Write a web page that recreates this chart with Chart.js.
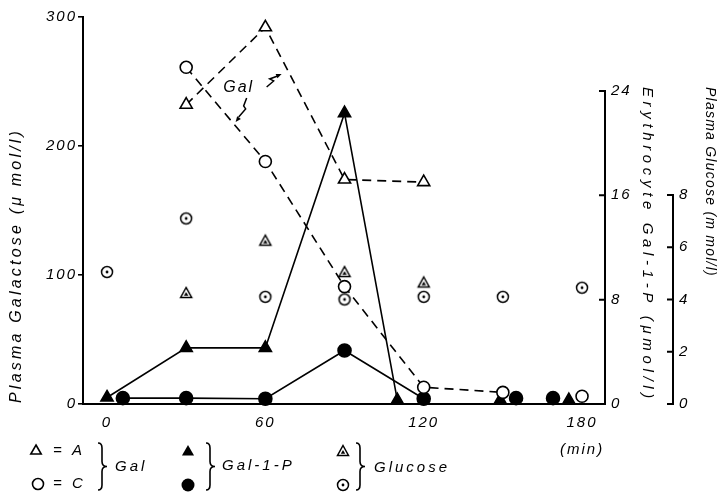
<!DOCTYPE html>
<html>
<head>
<meta charset="utf-8">
<script src="https://cdn.jsdelivr.net/npm/chart.js@4.4.1/dist/chart.umd.min.js"></script>
<style>
  html, body { margin: 0; padding: 0; background: #fff; }
  canvas { display: block; }
</style>
</head>
<body>
<canvas id="stage" width="722" height="493" style="width:722px;height:493px"></canvas>
<script>
// time in min, Gal in umol/l (left), Gal-1-P in umol/l (right), glucose in mmol/l (far right)
var galATimes = [30, 60, 90, 120];
var galAValues = [232, 292, 174, 172];
var galCTimes = [30, 60, 90, 120, 150];
var galCValues = [261, 188, 91, 13, 9];
var galCLateTimes = [180];
var galCLateValues = [6];

var g1pATimes = [0, 30, 60, 90, 110];
var g1pAValues = [0.5, 4.3, 4.3, 22.3, 0.3];
var g1pALateTimes = [149, 175];
var g1pALateValues = [0.3, 0.3];
var g1pCTimes = [6, 30, 60, 90, 120];
var g1pCValues = [0.45, 0.45, 0.4, 4.1, 0.4];
var g1pCLateTimes = [155, 169];
var g1pCLateValues = [0.45, 0.45];

var glucATimes = [30, 60, 90, 120];
var glucAValues = [4.25, 6.25, 5.05, 4.65];
var glucCTimes = [0, 30, 60, 90, 120, 150, 180];
var glucCValues = [5.05, 7.1, 4.1, 4.0, 4.1, 4.1, 4.45];

var timeTicks = [0, 60, 120, 180];
var galTicks = [0, 100, 200, 300];
var g1pTicks = [0, 8, 16, 24];
var glucTicks = [0, 2, 4, 6, 8];

var FONT = '"Liberation Sans", Arial, sans-serif';

function pts(ts, vs) {
  return ts.map(function(t, i) { return {x: t, y: vs[i]}; });
}

// triangle / circle with a dot inside, used for glucose
function dottedTriangle() {
  var c = document.createElement('canvas');
  c.width = 16; c.height = 16;
  var g = c.getContext('2d');
  g.lineWidth = 1.5;
  g.strokeStyle = '#000';
  g.fillStyle = '#fff';
  g.beginPath();
  g.moveTo(8, 2.5); g.lineTo(13.5, 12.5); g.lineTo(2.5, 12.5); g.closePath();
  g.fill(); g.stroke();
  g.fillStyle = '#000';
  g.beginPath();
  g.moveTo(8, 7); g.lineTo(10.2, 10.8); g.lineTo(5.8, 10.8); g.closePath();
  g.fill();
  return c;
}
function dottedCircle() {
  var c = document.createElement('canvas');
  c.width = 16; c.height = 16;
  var g = c.getContext('2d');
  g.lineWidth = 1.5;
  g.strokeStyle = '#000';
  g.fillStyle = '#fff';
  g.beginPath(); g.arc(8, 8, 5.5, 0, Math.PI * 2); g.fill(); g.stroke();
  g.fillStyle = '#000';
  g.beginPath(); g.arc(8, 8, 1.4, 0, Math.PI * 2); g.fill();
  return c;
}
var triDot = dottedTriangle();
var circDot = dottedCircle();

function ds(extra) {
  return Object.assign({
    borderColor: '#000', borderWidth: 1.6, pointBorderColor: '#000', pointBorderWidth: 1.6,
    tension: 0, fill: false, clip: false
  }, extra);
}

function onlyTicks(list) {
  return function(scale) {
    scale.ticks = list.map(function(v) { return {value: v}; });
  };
}

function spaced(ctx, text, len) {
  ctx.letterSpacing = '0px';
  var w = ctx.measureText(text).width;
  ctx.letterSpacing = Math.max(0, (len - w) / text.length).toFixed(2) + 'px';
}

function brace(ctx, x, y0, y1) {
  var m = (y0 + y1) / 2;
  ctx.beginPath();
  ctx.moveTo(x, y0);
  ctx.quadraticCurveTo(x + 4, y0, x + 4, y0 + 5);
  ctx.lineTo(x + 4, m - 5);
  ctx.quadraticCurveTo(x + 4, m, x + 9, m);
  ctx.quadraticCurveTo(x + 4, m, x + 4, m + 5);
  ctx.lineTo(x + 4, y1 - 5);
  ctx.quadraticCurveTo(x + 4, y1, x, y1);
  ctx.stroke();
}

function tri(ctx, x, y, r, filled) {
  ctx.beginPath();
  ctx.moveTo(x, y - r);
  ctx.lineTo(x + r * 0.866, y + r * 0.5);
  ctx.lineTo(x - r * 0.866, y + r * 0.5);
  ctx.closePath();
  if (filled) ctx.fill(); else ctx.stroke();
}
function circ(ctx, x, y, r, filled) {
  ctx.beginPath();
  ctx.arc(x, y, r, 0, Math.PI * 2);
  if (filled) ctx.fill(); else ctx.stroke();
}

function arrowHead(ctx, fx, fy, tx, ty) {
  var a = Math.atan2(ty - fy, tx - fx);
  ctx.beginPath();
  ctx.moveTo(tx, ty);
  ctx.lineTo(tx - 6 * Math.cos(a - 0.4), ty - 6 * Math.sin(a - 0.4));
  ctx.lineTo(tx - 6 * Math.cos(a + 0.4), ty - 6 * Math.sin(a + 0.4));
  ctx.closePath();
  ctx.fill();
}

var extras = {
  id: 'extras',
  beforeDraw: function(chart) {
    chart.ctx.letterSpacing = '2px';
  },
  afterDraw: function(chart) {
    var ctx = chart.ctx;
    var sx = chart.scales.x, sy = chart.scales.y, s1 = chart.scales.y1, s2 = chart.scales.y2;
    ctx.save();
    ctx.strokeStyle = '#000';
    ctx.fillStyle = '#000';
    ctx.lineWidth = 2;

    // the two right axes only run over their ticked range
    [[s1, g1pTicks], [s2, glucTicks]].forEach(function(p) {
      var s = p[0], t = p[1], x = s.left;
      ctx.beginPath();
      ctx.moveTo(x, s.getPixelForValue(t[0]));
      ctx.lineTo(x, s.getPixelForValue(t[t.length - 1]));
      t.forEach(function(v) {
        var yy = s.getPixelForValue(v);
        ctx.moveTo(x - 6, yy);
        ctx.lineTo(x + 1, yy);
      });
      ctx.stroke();
    });

    // axis titles
    ctx.textBaseline = 'middle';
    ctx.textAlign = 'left';
    ctx.font = 'italic 16px ' + FONT;
    var y0 = sy.getPixelForValue(0);
    var t = 'Plasma Galactose (\u03bc mol/l)';
    ctx.save();
    ctx.translate(sy.left + 17, y0 - 1);
    ctx.rotate(-Math.PI / 2);
    spaced(ctx, t, 275);
    ctx.fillText(t, 0, 0);
    ctx.restore();

    var top1 = s1.getPixelForValue(24) - 4;
    ctx.font = 'italic 15px ' + FONT;
    t = 'Erythrocyte Gal-1-P (\u03bcmol/l)';
    ctx.save();
    ctx.translate(s1.left + 42, top1);
    ctx.rotate(Math.PI / 2);
    spaced(ctx, t, 316);
    ctx.fillText(t, 0, 0);
    ctx.restore();

    ctx.font = 'italic 14px ' + FONT;
    t = 'Plasma Glucose (m mol/l)';
    ctx.save();
    ctx.translate(s2.left + 37, top1);
    ctx.rotate(Math.PI / 2);
    spaced(ctx, t, 190);
    ctx.fillText(t, 0, 0);
    ctx.restore();

    // "Gal" note with its two arrows
    var gx = sx.getPixelForValue(49.5), gy = sy.getPixelForValue(245);
    ctx.font = 'italic 16px ' + FONT;
    ctx.textAlign = 'center';
    ctx.letterSpacing = '2px';
    ctx.fillText('Gal', gx + 1, gy);
    ctx.lineWidth = 1.5;
    ctx.beginPath();
    ctx.moveTo(gx + 29, gy - 1);
    ctx.lineTo(gx + 36, gy - 7);
    ctx.lineTo(gx + 32, gy - 9);
    ctx.lineTo(gx + 40, gy - 12);
    ctx.stroke();
    arrowHead(ctx, gx + 32, gy - 9, gx + 44, gy - 14);
    ctx.beginPath();
    ctx.moveTo(gx + 9, gy + 10);
    ctx.lineTo(gx + 6, gy + 18);
    ctx.lineTo(gx + 8, gy + 21);
    ctx.lineTo(gx + 1, gy + 29);
    ctx.stroke();
    arrowHead(ctx, gx + 8, gy + 21, gx - 2, gy + 34);

    // legend
    ctx.lineWidth = 1.6;
    ctx.textAlign = 'left';
    ctx.font = 'italic 15px ' + FONT;
    ctx.letterSpacing = '3px';
    var r1 = 451, r2 = 484;
    tri(ctx, 36, r1, 6, false);
    ctx.fillText('= A', 53, r1);
    circ(ctx, 38, r2, 5.5, false);
    ctx.fillText('= C', 53, r2);
    brace(ctx, 98, 443, 490);
    ctx.fillText('Gal', 115, 467);

    tri(ctx, 188, r1 + 1, 7, true);
    circ(ctx, 188, r2 + 1, 6.5, true);
    brace(ctx, 206, 443, 490);
    ctx.fillText('Gal-1-P', 222, 466);

    ctx.drawImage(triDot, 335, r1 - 8);
    ctx.drawImage(circDot, 335, r2 - 7);
    brace(ctx, 356, 443, 490);
    ctx.fillText('Glucose', 374, 468);

    ctx.restore();
  }
};

var canvas = document.getElementById('stage');
var tickFont = {family: FONT, size: 15, style: 'italic'};

var chart = new Chart(canvas, {
  type: 'line',
  data: {
    datasets: [
      ds({label: 'Gal A', data: pts(galATimes, galAValues), yAxisID: 'y', borderDash: [9, 6],
          pointStyle: 'triangle', pointRadius: 7, pointBackgroundColor: '#fff'}),
      ds({label: 'Gal C', data: pts(galCTimes, galCValues), yAxisID: 'y', borderDash: [9, 6],
          pointStyle: 'circle', pointRadius: 6, pointBackgroundColor: '#fff'}),
      ds({label: 'Gal C 180', data: pts(galCLateTimes, galCLateValues), yAxisID: 'y', showLine: false,
          pointStyle: 'circle', pointRadius: 6, pointBackgroundColor: '#fff'}),
      ds({label: 'Gal-1-P A', data: pts(g1pATimes, g1pAValues), yAxisID: 'y1',
          pointStyle: 'triangle', pointRadius: 7, pointBackgroundColor: '#000'}),
      ds({label: 'Gal-1-P A late', data: pts(g1pALateTimes, g1pALateValues), yAxisID: 'y1', showLine: false,
          pointStyle: 'triangle', pointRadius: 7, pointBackgroundColor: '#000'}),
      ds({label: 'Gal-1-P C', data: pts(g1pCTimes, g1pCValues), yAxisID: 'y1',
          pointStyle: 'circle', pointRadius: 6.5, pointBackgroundColor: '#000'}),
      ds({label: 'Gal-1-P C late', data: pts(g1pCLateTimes, g1pCLateValues), yAxisID: 'y1', showLine: false,
          pointStyle: 'circle', pointRadius: 6.5, pointBackgroundColor: '#000'}),
      ds({label: 'Glucose A', data: pts(glucATimes, glucAValues), yAxisID: 'y2', showLine: false,
          pointStyle: triDot, pointRadius: 6}),
      ds({label: 'Glucose C', data: pts(glucCTimes, glucCValues), yAxisID: 'y2', showLine: false,
          pointStyle: circDot, pointRadius: 6})
    ]
  },
  options: {
    responsive: false,
    animation: false,
    layout: {padding: {top: 17}},
    plugins: {legend: {display: false}, tooltip: {enabled: false}},
    scales: {
      x: {
        type: 'linear', position: 'bottom', min: -9.1, max: 188.7,
        afterBuildTicks: onlyTicks(timeTicks),
        afterFit: function(s) { s.height = 89; },
        grid: {display: false, drawTicks: false},
        border: {display: true, color: '#000', width: 2},
        ticks: {
          color: '#000', padding: 5, maxRotation: 0, autoSkip: false,
          font: {family: FONT, size: 15, style: 'italic', lineHeight: 1.8},
          callback: function(v) { return v === 180 ? ['180', '(min)'] : String(v); }
        }
      },
      y: {
        position: 'left', min: 0, max: 300,
        afterBuildTicks: onlyTicks(galTicks),
        afterFit: function(s) { s.width = 83; },
        grid: {drawOnChartArea: false, drawTicks: true, tickLength: 5, color: '#000', lineWidth: 1.6},
        border: {display: true, color: '#000', width: 2},
        ticks: {color: '#000', padding: 1, font: tickFont}
      },
      y1: {
        position: 'right', min: 0, max: 29.67,
        afterBuildTicks: onlyTicks(g1pTicks),
        afterFit: function(s) { s.width = 68; },
        grid: {display: false, drawTicks: false},
        border: {display: false},
        ticks: {color: '#000', padding: 6, font: tickFont}
      },
      y2: {
        position: 'right', min: 0, max: 14.81,
        afterBuildTicks: onlyTicks(glucTicks),
        afterFit: function(s) { s.width = 49; },
        grid: {display: false, drawTicks: false},
        border: {display: false},
        ticks: {color: '#000', padding: 6, font: tickFont}
      }
    }
  },
  plugins: [extras]
});
</script>
</body>
</html>
